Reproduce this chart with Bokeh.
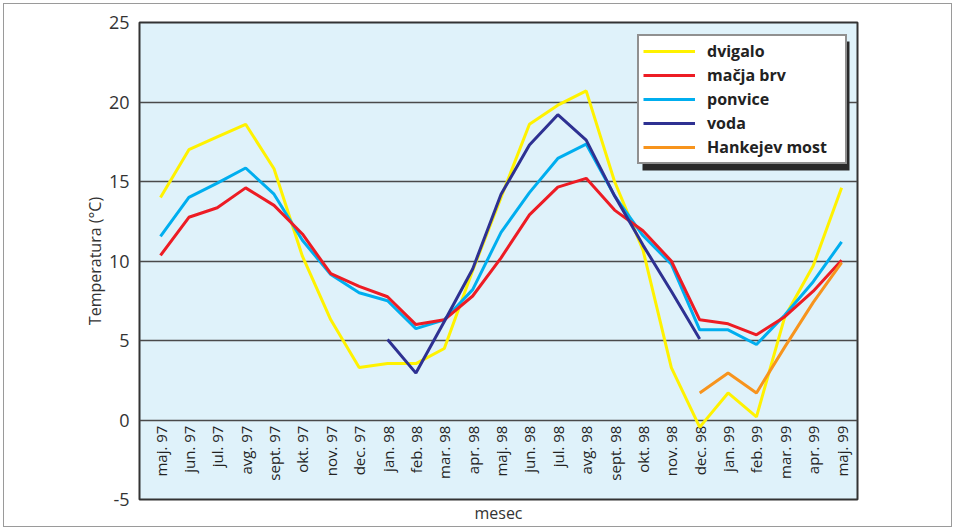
import math
from bokeh.plotting import figure
from bokeh.models import Range1d, FixedTicker, Legend, LegendItem, BoxAnnotation
from bokeh.core.properties import value
from bokeh.embed import file_html
from bokeh.resources import INLINE

nan = float("nan")

months = ["maj. 97", "jun. 97", "jul. 97", "avg. 97", "sept. 97", "okt. 97",
          "nov. 97", "dec. 97", "jan. 98", "feb. 98", "mar. 98", "apr. 98",
          "maj. 98", "jun. 98", "jul. 98", "avg. 98", "sept. 98", "okt. 98",
          "nov. 98", "dec. 98", "jan. 99", "feb. 99", "mar. 99", "apr. 99",
          "maj. 99"]

dvigalo = [14.0, 17.0, 17.8, 18.6, 15.8, 10.3, 6.3, 3.3, 3.55, 3.55, 4.5, 9.4,
           14.0, 18.6, 19.8, 20.7, 15.0, 10.7, 3.3, -0.45, 1.7, 0.2, 6.5, 9.7, 14.6]
macja_brv = [10.35, 12.75, 13.35, 14.6, 13.5, 11.7, 9.2, 8.4, 7.75, 6.0, 6.3, 7.8,
             10.2, 12.9, 14.65, 15.2, 13.2, 11.9, 10.0, 6.3, 6.05, 5.36, 6.5, 8.1, 10.05]
ponvice = [11.55, 14.0, 14.9, 15.85, 14.2, 11.3, 9.15, 8.0, 7.5, 5.75, 6.3, 8.2,
           11.8, 14.3, 16.45, 17.35, 14.1, 11.6, 9.8, 5.67, 5.67, 4.75, 6.6, 8.7, 11.2]
voda = [nan] * 8 + [5.06, 2.95, 6.2, 9.5, 14.2, 17.3, 19.2, 17.6, 14.1, 11.0, 8.1, 5.1] + [nan] * 5
hankejev_most = [nan] * 19 + [1.7, 2.95, 1.7, 4.6, 7.4, 9.9]

y_ticks = [-5, 0, 5, 10, 15, 20, 25]

xs = list(range(len(months)))

p = figure(width=949, height=524, output_backend="svg", toolbar_location=None,
           x_range=Range1d(-0.74, 24.56), y_range=Range1d(-5, 25),
           min_border_left=135, min_border_right=96, min_border_top=18, min_border_bottom=29)
p.styles = {"border": "1px solid #9a9a9a", "margin": "3px 0 0 3px"}

p.background_fill_color = "#dff2fa"
p.border_fill_color = "white"
p.outline_line_color = "#333333"
p.outline_line_width = 2

# axes
p.yaxis.ticker = FixedTicker(ticks=y_ticks)
p.yaxis.major_label_overrides = {t: str(t) for t in y_ticks}
p.yaxis.axis_line_color = None
p.yaxis.major_tick_line_color = None
p.yaxis.minor_tick_line_color = None
p.yaxis.major_tick_out = 0
p.yaxis.major_label_standoff = 10
p.yaxis.major_label_text_font = "Open Sans"
p.yaxis.major_label_text_font_size = "18px"
p.yaxis.major_label_text_color = "#333333"
p.yaxis.axis_label = "Temperatura (°C)"
p.yaxis.axis_label_text_font = "Open Sans"
p.yaxis.axis_label_text_font_style = "normal"
p.yaxis.axis_label_text_font_size = "16px"
p.yaxis.axis_label_text_color = "#333333"
p.yaxis.axis_label_standoff = 0

p.xaxis.ticker = FixedTicker(ticks=[])
p.xaxis.axis_line_color = None
p.xaxis.major_tick_line_color = None
p.xaxis.minor_tick_line_color = None
p.xaxis.major_tick_out = 0
p.xaxis.major_label_text_font_size = "0px"
p.xaxis.axis_label = "mesec"
p.xaxis.axis_label_text_font = "Open Sans"
p.xaxis.axis_label_text_font_style = "normal"
p.xaxis.axis_label_text_font_size = "16px"
p.xaxis.axis_label_text_color = "#333333"
p.xaxis.axis_label_standoff = 2

p.xgrid.grid_line_color = None
p.ygrid.ticker = FixedTicker(ticks=y_ticks)
p.ygrid.grid_line_color = "#4a4a4a"
p.ygrid.grid_line_width = 1.3

# month labels inside the plot
p.text(x=xs, y=[-0.35] * len(xs), text=months, angle=math.pi / 2,
       text_align="right", text_baseline="middle",
       text_font=value("Open Sans"), text_font_size="15px", text_color="#222222")

lw = 3
r_dv = p.line(xs, dvigalo, line_color="#fff200", line_width=lw)
r_po = p.line(xs, ponvice, line_color="#00aeef", line_width=lw)
r_mb = p.line(xs, macja_brv, line_color="#ed1c24", line_width=lw)
r_vo = p.line(xs, voda, line_color="#2e3192", line_width=lw)
r_hm = p.line(xs, hankejev_most, line_color="#f7941d", line_width=lw)

# legend drop shadow
shadow = BoxAnnotation(left=637, right=844, top=36, bottom=165,
                       left_units="canvas", right_units="canvas",
                       top_units="canvas", bottom_units="canvas",
                       fill_color="#2a2a2a", fill_alpha=1, line_color=None)
p.add_layout(shadow)

legend = Legend(items=[
    LegendItem(label="dvigalo", renderers=[r_dv]),
    LegendItem(label="mačja brv", renderers=[r_mb]),
    LegendItem(label="ponvice", renderers=[r_po]),
    LegendItem(label="voda", renderers=[r_vo]),
    LegendItem(label="Hankejev most", renderers=[r_hm]),
], location=(498, 335))
legend.label_text_font = "Open Sans"
legend.label_text_font_style = "bold"
legend.label_text_font_size = "16px"
legend.label_text_color = "#222222"
legend.glyph_width = 52
legend.glyph_height = 20
legend.label_height = 20
legend.label_width = 134
legend.label_standoff = 12
legend.spacing = 2
legend.padding = 4
legend.margin = 0
legend.border_line_color = "#222222"
legend.border_line_width = 2
legend.background_fill_color = "white"
legend.background_fill_alpha = 1
p.add_layout(legend, "center")

open("out.html", "w").write(file_html(p, INLINE))
